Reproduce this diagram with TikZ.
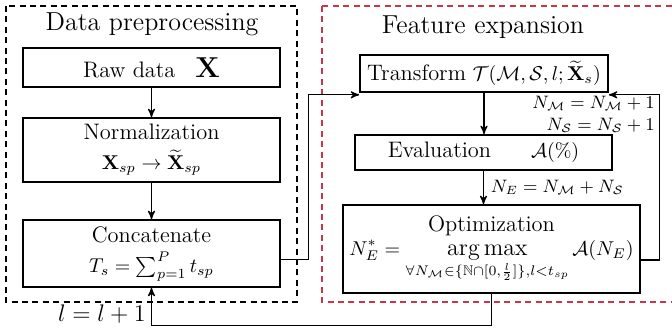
\documentclass[tikz,border=0pt]{standalone}
\usepackage{amsmath}
\usepackage{amssymb}
\usepackage{tikz}
\usetikzlibrary{arrows,positioning}
\definecolor{frameRed}{RGB}{204,52,72}
% stage names are set a little larger than the formulas
\newcommand{\stagename}[1]{{\fontsize{11.2}{13}\selectfont #1}}
\newcommand{\bigargmax}{\mathop{\text{\fontsize{12}{14}\selectfont arg\,max}}\limits}
\tikzset{
    %Define standard arrow tip
    >=stealth',
    %Define style for the stage boxes
    stagebox/.style={
           rectangle,
           draw=black, line width=0.8pt,
           minimum width=128.5pt,
           align=center,
           inner sep=0pt},
    %Define style for the dashed frames
    groupframe/.style={
           dash pattern=on 3pt off 2.2pt,
           line width=1.2pt},
    %Define style for the frame titles
    frametitle/.style={
           font=\fontsize{13}{15}\selectfont},
    % Define arrow style
    flow/.style={
           ->,
           line width=0.6pt}
}
\begin{document}
\begin{tikzpicture}[x=0.5pt,y=-0.5pt]
        \useasboundingbox (0,0) rectangle (672,335);
        \clip (0,0) rectangle (672,335);
        %frames
        \draw[groupframe] (6,6) rectangle (297,302);
        \draw[groupframe,frameRed,line width=1pt] (322,6) rectangle (700,302);
        \node[frametitle] (pretitle) at (152,24) {Data preprocessing};
        \node[frametitle] (exptitle) at (483,27) {Feature expansion};
        %left column
        \node[stagebox, minimum height=19.5pt] (raw) at (151.5,67.5)
            {\stagename{Raw data}\quad {\Large$\mathbf{X}$}};
        \node[stagebox, minimum height=32pt] (norm) at (151.5,150)
            {\stagename{Normalization}\\[3pt] $\mathbf{X}_{sp}\rightarrow\widetilde{\mathbf{X}}_{sp}$};
        \node[stagebox, minimum height=33.5pt] (concat) at (151.5,253.5)
            {\stagename{Concatenate}\\[3pt] $T_s=\sum_{p=1}^{P} t_{sp}$};
        %right column
        \node[stagebox, minimum width=124pt, minimum height=18.5pt] (trans) at (484,73.5)
            {\stagename{Transform} $\mathcal{T}(\mathcal{M},\mathcal{S},l;\widetilde{\mathbf{X}}_s)$};
        \node[stagebox, minimum height=17.5pt] (eval) at (483.5,152.5)
            {\stagename{Evaluation}\qquad $\mathcal{A}(\%)$};
        \node[stagebox, minimum width=148.5pt, minimum height=44pt] (optim) at (491.5,249)
            {\stagename{Optimization}\\ $\displaystyle N_E^{*}=\bigargmax_{\forall N_{\mathcal{M}}\in\{\mathbb{N}\cap[0,\frac{l}{2}]\},l<t_{sp}}\mathcal{A}(N_E)$};
        %arrows
        \draw[flow] (raw) -- (norm);
        \draw[flow] (norm) -- (concat);
        \draw[flow] ([yshift=-3pt]concat.east) -- ++(28,0) |- ([yshift=-1pt]trans.south west);
        \draw[flow] (trans.south) -- (trans.south |- eval.north);
        \draw[flow] (eval.south) -- (eval.south |- optim.north)
            node[midway,right,font=\small] (nelabel) {$N_E=N_{\mathcal{M}}+N_{\mathcal{S}}$};
        \draw[flow] ([yshift=-5.5pt]optim.east) -- ++(19,0) |- ([yshift=-1pt]trans.south east);
        \node[anchor=north east, align=right, font=\small, inner sep=0pt] (incr) at (655,96)
            {$N_{\mathcal{M}}=N_{\mathcal{M}}+1$\\ $N_{\mathcal{S}}=N_{\mathcal{S}}+1$};
        \draw[flow] (optim.south) -- ++(0,32) -| (concat.south);
        \node[anchor=south east, inner sep=1pt, font=\large] (lstep) at (148,326) {$l=l+1$};
\end{tikzpicture}
\end{document}
